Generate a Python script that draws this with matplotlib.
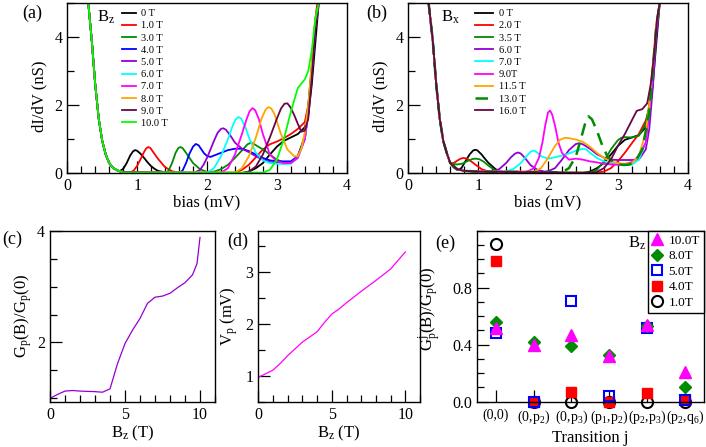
import numpy as np
import matplotlib
matplotlib.use('Agg')
import matplotlib.pyplot as plt
from matplotlib.ticker import MultipleLocator, FixedLocator

plt.rcParams['font.family'] = ['Liberation Serif', 'DejaVu Serif']
plt.rcParams['mathtext.fontset'] = 'custom'
plt.rcParams['mathtext.rm'] = 'Liberation Serif'
plt.rcParams['mathtext.it'] = 'Liberation Serif:italic'

# ---- panel (a): dI/dV vs bias for Bz ----
# shared steep edge at low bias
edge_a_bias = [0.30, 0.35, 0.40, 0.45, 0.50, 0.55, 0.60, 0.65, 0.70, 0.75]
edge_a_g = [5.0, 3.9, 2.6, 1.6, 0.95, 0.55, 0.30, 0.17, 0.10, 0.06]

bz_labels = ['0 T', '1.0 T', '3.0 T', '4.0 T', '5.0 T', '6.0 T', '7.0 T', '8.0 T', '9.0 T', '10.0 T']
bz_colors = ['black', 'red', '#008b00', 'blue', '#9400d3', 'cyan', 'magenta', 'orange', '#670748', '#00ff00']

bz0_bias = [0.8, 0.85, 0.9, 0.94, 0.97, 1.0, 1.05, 1.1, 1.15, 1.2, 1.25, 1.3, 1.4, 1.5, 2.5, 2.6, 2.7, 2.8, 2.9, 3.0, 3.1, 3.2, 3.3, 3.4, 3.45, 3.5, 3.55, 3.6]
bz0_g = [0.13, 0.3, 0.52, 0.64, 0.68, 0.66, 0.57, 0.45, 0.32, 0.21, 0.13, 0.07, 0.03, 0.01, 0.01, 0.05, 0.15, 0.3, 0.55, 0.78, 0.95, 1.05, 1.15, 1.35, 1.7, 2.6, 3.8, 5.0]
bz1_bias = [0.8, 0.9, 0.95, 1.0, 1.05, 1.1, 1.13, 1.16, 1.19, 1.22, 1.3, 1.4, 1.5, 1.6, 2.4, 2.5, 2.6, 2.7, 2.8, 2.9, 3.0, 3.1, 3.2, 3.3, 3.4, 3.45, 3.5, 3.55, 3.58]
bz1_g = [0.03, 0.02, 0.08, 0.22, 0.42, 0.63, 0.73, 0.77, 0.74, 0.65, 0.42, 0.18, 0.06, 0.02, 0.02, 0.1, 0.25, 0.47, 0.7, 0.85, 0.93, 1.03, 1.15, 1.3, 1.5, 2.0, 3.0, 4.5, 5.0]
bz3_bias = [0.8, 1.4, 1.45, 1.5, 1.55, 1.59, 1.62, 1.65, 1.7, 1.8, 1.9, 2.0, 2.1, 2.2, 2.3, 2.4, 2.5, 2.58, 2.63, 2.68, 2.75, 2.82, 2.9, 3.0, 3.1, 3.2, 3.3, 3.4, 3.45, 3.5, 3.55, 3.6]
bz3_g = [0.03, 0.0, 0.08, 0.3, 0.6, 0.74, 0.77, 0.74, 0.6, 0.3, 0.12, 0.04, 0.05, 0.12, 0.25, 0.45, 0.67, 0.85, 0.9, 0.85, 0.76, 0.68, 0.55, 0.4, 0.32, 0.32, 0.5, 1.1, 2.0, 3.2, 4.5, 5.0]
bz4_bias = [0.8, 1.6, 1.65, 1.7, 1.75, 1.8, 1.84, 1.88, 1.92, 1.96, 2.0, 2.05, 2.1, 2.2, 2.3, 2.4, 2.5, 2.6, 2.7, 2.8, 2.9, 3.0, 3.1, 3.2, 3.3, 3.4, 3.45, 3.5, 3.55, 3.6]
bz4_g = [0.03, 0.0, 0.08, 0.3, 0.58, 0.78, 0.86, 0.82, 0.7, 0.58, 0.51, 0.48, 0.52, 0.6, 0.68, 0.72, 0.72, 0.65, 0.55, 0.45, 0.38, 0.35, 0.35, 0.35, 0.5, 1.0, 1.8, 3.0, 4.3, 5.0]
bz5_bias = [0.8, 1.8, 1.9, 1.95, 2.0, 2.05, 2.1, 2.15, 2.2, 2.23, 2.27, 2.33, 2.4, 2.5, 2.6, 2.7, 2.8, 2.9, 3.0, 3.1, 3.2, 3.3, 3.4, 3.45, 3.5, 3.55, 3.6]
bz5_g = [0.03, 0.0, 0.1, 0.25, 0.45, 0.7, 0.95, 1.18, 1.3, 1.32, 1.28, 1.12, 0.9, 0.72, 0.62, 0.5, 0.4, 0.33, 0.3, 0.3, 0.3, 0.5, 1.0, 1.8, 3.0, 4.3, 5.0]
bz6_bias = [0.8, 2.0, 2.1, 2.2, 2.3, 2.36, 2.41, 2.45, 2.49, 2.55, 2.6, 2.7, 2.8, 2.9, 3.0, 3.1, 3.2, 3.3, 3.4, 3.45, 3.5, 3.55, 3.6]
bz6_g = [0.03, 0.02, 0.15, 0.5, 1.0, 1.35, 1.58, 1.65, 1.6, 1.35, 1.05, 0.6, 0.38, 0.3, 0.28, 0.27, 0.28, 0.45, 1.0, 1.8, 3.0, 4.3, 5.0]
bz7_bias = [0.8, 2.2, 2.3, 2.4, 2.5, 2.56, 2.61, 2.65, 2.69, 2.74, 2.8, 2.9, 3.0, 3.1, 3.2, 3.3, 3.4, 3.45, 3.5, 3.55, 3.6]
bz7_g = [0.03, 0.02, 0.15, 0.55, 1.15, 1.55, 1.82, 1.91, 1.85, 1.6, 1.15, 0.55, 0.35, 0.3, 0.3, 0.45, 1.0, 1.8, 3.0, 4.3, 5.0]
bz8_bias = [0.8, 2.4, 2.5, 2.6, 2.7, 2.78, 2.84, 2.88, 2.92, 2.97, 3.05, 3.15, 3.25, 3.3, 3.35, 3.4, 3.45, 3.5, 3.55, 3.6]
bz8_g = [0.03, 0.02, 0.15, 0.5, 1.05, 1.6, 1.87, 1.94, 1.9, 1.72, 1.2, 0.7, 0.5, 0.5, 0.7, 1.2, 2.0, 3.2, 4.5, 5.0]
bz9_bias = [0.8, 2.5, 2.6, 2.7, 2.8, 2.9, 3.0, 3.06, 3.11, 3.15, 3.19, 3.25, 3.3, 3.35, 3.4, 3.45, 3.5, 3.55, 3.6]
bz9_g = [0.03, 0.0, 0.05, 0.2, 0.55, 1.05, 1.6, 1.9, 2.04, 2.05, 1.95, 1.7, 1.45, 1.22, 1.25, 1.6, 2.8, 4.2, 5.0]
bz10_bias = [0.8, 2.8, 2.9, 3.0, 3.1, 3.2, 3.3, 3.4, 3.45, 3.5, 3.55, 3.6]
bz10_g = [0.02, 0.02, 0.1, 0.4, 1.0, 1.8, 2.5, 2.75, 3.0, 3.6, 4.5, 5.0]

bz_bias = [bz0_bias, bz1_bias, bz3_bias, bz4_bias, bz5_bias, bz6_bias, bz7_bias, bz8_bias, bz9_bias, bz10_bias]
bz_g = [bz0_g, bz1_g, bz3_g, bz4_g, bz5_g, bz6_g, bz7_g, bz8_g, bz9_g, bz10_g]

# ---- panel (b): dI/dV vs bias for Bx ----
edge_b_bias = [0.29, 0.35, 0.40, 0.45, 0.50, 0.55]
edge_b_g = [5.0, 3.9, 2.6, 1.6, 0.95, 0.6]

bx_labels = ['0 T', '2.0 T', '3.5 T', '6.0 T', '7.0 T', '9.0T', '11.5 T', '13.0 T', '16.0 T']
bx_colors = ['black', 'red', '#008b00', '#9400d3', 'cyan', 'magenta', 'orange', '#008b00', '#670748']
bx_styles = ['-', '-', '-', '-', '-', '-', '-', '--', '-']

bx0_bias = [0.6, 0.65, 0.7, 0.76, 0.82, 0.88, 0.93, 0.96, 0.99, 1.05, 1.1, 1.15, 1.25, 1.35, 1.5, 2.5, 2.6, 2.7, 2.8, 2.9, 3.0, 3.1, 3.2, 3.3, 3.4, 3.45, 3.5, 3.55, 3.6]
bx0_g = [0.3, 0.17, 0.1, 0.15, 0.36, 0.56, 0.67, 0.69, 0.67, 0.55, 0.42, 0.3, 0.12, 0.04, 0.01, 0.01, 0.05, 0.15, 0.3, 0.55, 0.8, 0.98, 1.05, 1.12, 1.35, 1.7, 2.6, 3.8, 5.0]
bx2_bias = [0.6, 0.65, 0.7, 0.75, 0.79, 0.84, 0.9, 0.95, 1.05, 1.15, 1.3, 2.7, 2.8, 2.9, 3.0, 3.1, 3.2, 3.3, 3.4, 3.45, 3.5, 3.55, 3.6]
bx2_g = [0.3, 0.3, 0.37, 0.43, 0.45, 0.43, 0.35, 0.27, 0.12, 0.05, 0.02, 0.02, 0.05, 0.15, 0.35, 0.6, 0.88, 1.15, 1.55, 1.9, 2.8, 4.2, 5.0]
bx35_bias = [0.6, 0.65, 0.7, 0.77, 0.85, 0.92, 0.97, 1.02, 1.08, 1.15, 1.25, 1.4, 2.6, 2.7, 2.8, 2.9, 3.0, 3.05, 3.1, 3.2, 3.3, 3.4, 3.45, 3.5, 3.55, 3.6]
bx35_g = [0.3, 0.27, 0.26, 0.28, 0.36, 0.42, 0.43, 0.41, 0.34, 0.22, 0.08, 0.03, 0.02, 0.1, 0.35, 0.7, 0.97, 1.04, 1.06, 1.05, 1.1, 1.45, 2.0, 3.0, 4.3, 5.0]
bx6_bias = [0.6, 0.7, 0.8, 1.0, 1.2, 1.3, 1.4, 1.47, 1.53, 1.57, 1.61, 1.67, 1.75, 1.85, 1.95, 2.0, 2.1, 2.2, 2.3, 2.4, 2.45, 2.5, 2.6, 2.7, 2.8, 2.9, 3.0, 3.1, 3.2, 3.3, 3.4, 3.45, 3.5, 3.55, 3.6]
bx6_g = [0.3, 0.12, 0.07, 0.05, 0.05, 0.12, 0.3, 0.47, 0.58, 0.61, 0.58, 0.45, 0.24, 0.1, 0.05, 0.06, 0.15, 0.4, 0.68, 0.86, 0.88, 0.85, 0.72, 0.56, 0.46, 0.4, 0.39, 0.39, 0.39, 0.4, 0.7, 1.3, 2.5, 4.0, 5.0]
bx7_bias = [0.6, 0.7, 0.8, 1.0, 1.4, 1.5, 1.6, 1.7, 1.75, 1.79, 1.84, 1.9, 2.0, 2.1, 2.2, 2.3, 2.4, 2.5, 2.55, 2.6, 2.7, 2.8, 2.9, 3.0, 3.1, 3.2, 3.3, 3.4, 3.45, 3.5, 3.55, 3.6]
bx7_g = [0.3, 0.12, 0.07, 0.05, 0.06, 0.12, 0.28, 0.52, 0.63, 0.67, 0.62, 0.5, 0.43, 0.47, 0.52, 0.58, 0.66, 0.72, 0.7, 0.6, 0.45, 0.35, 0.3, 0.27, 0.23, 0.25, 0.4, 0.9, 1.8, 3.0, 4.3, 5.0]
bx9_bias = [0.6, 0.7, 0.8, 1.0, 1.7, 1.8, 1.87, 1.92, 1.96, 2.0, 2.03, 2.06, 2.1, 2.15, 2.2, 2.3, 2.4, 2.5, 2.6, 2.7, 2.8, 2.9, 3.0, 3.1, 3.2, 3.3, 3.4, 3.45, 3.5, 3.55, 3.6]
bx9_g = [0.3, 0.12, 0.07, 0.05, 0.05, 0.15, 0.45, 0.9, 1.4, 1.78, 1.84, 1.72, 1.4, 0.9, 0.6, 0.4, 0.43, 0.4, 0.35, 0.32, 0.28, 0.26, 0.25, 0.27, 0.33, 0.5, 0.9, 1.8, 3.0, 4.3, 5.0]
bx115_bias = [0.6, 0.7, 0.8, 1.0, 1.8, 1.9, 2.0, 2.1, 2.17, 2.24, 2.3, 2.4, 2.5, 2.6, 2.7, 2.8, 2.9, 3.0, 3.1, 3.2, 3.3, 3.4, 3.45, 3.5, 3.55, 3.6]
bx115_g = [0.3, 0.12, 0.07, 0.05, 0.05, 0.15, 0.45, 0.8, 0.98, 1.04, 1.03, 0.99, 0.92, 0.78, 0.6, 0.45, 0.35, 0.3, 0.28, 0.3, 0.5, 1.2, 2.0, 3.2, 4.4, 5.0]
bx13_bias = [0.6, 0.7, 0.8, 1.0, 2.2, 2.3, 2.4, 2.47, 2.53, 2.58, 2.63, 2.7, 2.78, 2.85, 2.95, 3.05, 3.15, 3.25, 3.35, 3.45, 3.5, 3.55, 3.6]
bx13_g = [0.3, 0.12, 0.07, 0.05, 0.03, 0.15, 0.5, 1.0, 1.45, 1.67, 1.58, 1.25, 0.8, 0.5, 0.3, 0.25, 0.25, 0.35, 0.7, 1.8, 3.0, 4.3, 5.0]
bx16_bias = [0.6, 0.7, 0.8, 1.0, 2.6, 2.7, 2.8, 2.9, 3.0, 3.1, 3.2, 3.27, 3.35, 3.42, 3.47, 3.52, 3.56, 3.6]
bx16_g = [0.3, 0.12, 0.07, 0.05, 0.01, 0.04, 0.15, 0.4, 0.8, 1.15, 1.55, 1.83, 1.88, 2.05, 2.6, 3.5, 4.5, 5.0]

bx_bias = [bx0_bias, bx2_bias, bx35_bias, bx6_bias, bx7_bias, bx9_bias, bx115_bias, bx13_bias, bx16_bias]
bx_g = [bx0_g, bx2_g, bx35_g, bx6_g, bx7_g, bx9_g, bx115_g, bx13_g, bx16_g]

# ---- panel (c) and (d) ----
c_field = [0, 0.5, 1, 1.5, 2, 3, 3.5, 4, 4.5, 5, 5.5, 6, 6.5, 7, 7.5, 8, 8.5, 9, 9.5, 9.8, 10]
c_ratio = [1.0, 1.07, 1.13, 1.14, 1.13, 1.12, 1.11, 1.17, 1.62, 1.98, 2.22, 2.43, 2.70, 2.81, 2.83, 2.88, 2.98, 3.07, 3.21, 3.41, 3.88]
d_field = [0, 1, 1.5, 2, 3, 4, 4.5, 5, 5.5, 6, 7, 8, 9, 10]
d_vp = [0.97, 1.11, 1.24, 1.39, 1.65, 1.85, 2.03, 2.19, 2.29, 2.41, 2.63, 2.84, 3.06, 3.39]

# ---- panel (e) ----
trans_labels = ['(0,0)', '(0,p$_2$)', '(0,p$_3$)', '(p$_1$,p$_2$)', '(p$_2$,p$_3$)', '(p$_2$,q$_6$)']
e_1T = [1.11, 0.0, 0.0, 0.0, 0.0, 0.0]
e_4T = [0.99, 0.0, 0.07, 0.0, 0.06, 0.01]
e_5T = [0.48, 0.0, 0.71, 0.04, 0.52, 0.01]
e_8T = [0.56, 0.42, 0.39, 0.33, 0.53, 0.10]
e_10T = [0.52, 0.40, 0.47, 0.32, 0.54, 0.21]

W, H = 706, 447
fig = plt.figure(figsize=(W / 100, H / 100), dpi=100)

def px_axes(l, t, r, b):
    return fig.add_axes([l / W, 1 - b / H, (r - l) / W, (b - t) / H])

def style_ticks(ax):
    ax.tick_params(which='both', direction='in', top=False, right=False, labelsize=11.5, width=0.9)
    ax.tick_params(which='major', length=8.5)
    ax.tick_params(which='minor', length=5)
    for s in ax.spines.values():
        s.set_linewidth(1.0)

ax_a = px_axes(67.3, 2.7, 346.7, 173.3)
ax_b = px_axes(408.3, 2.7, 687.7, 173.3)
ax_c = px_axes(50, 230.7, 215, 401.7)
ax_d = px_axes(258.3, 230.7, 420, 401.7)
ax_e = px_axes(476.7, 230.7, 704, 401.7)

# (a)
for i in range(len(bz_labels)):
    x = edge_a_bias + bz_bias[i]
    y = edge_a_g + bz_g[i]
    ax_a.plot(x, y, color=bz_colors[i], lw=1.3, label=bz_labels[i])
# (b)
for i in range(len(bx_labels)):
    x = edge_b_bias + bx_bias[i]
    y = edge_b_g + bx_g[i]
    if bx_styles[i] == '--':
        ax_b.plot(x, y, color=bx_colors[i], lw=1.8, ls='--', dashes=(5, 3), label=bx_labels[i])
    else:
        ax_b.plot(x, y, color=bx_colors[i], lw=1.3, label=bx_labels[i])

for ax, ltxt, lx, lgx, hl in [(ax_a, r'B$_\mathrm{z}$', 0.106, 0.175, 1.3), (ax_b, r'B$_\mathrm{x}$', 0.116, 0.215, 1.8)]:
    ax.set_xlim(0, 4)
    ax.set_ylim(0, 5)
    ax.xaxis.set_major_locator(MultipleLocator(1))
    ax.xaxis.set_minor_locator(MultipleLocator(0.2))
    ax.yaxis.set_major_locator(FixedLocator([0, 2, 4]))
    ax.yaxis.set_minor_locator(MultipleLocator(1))
    style_ticks(ax)
    ax.set_xlabel('bias (mV)', fontsize=12, labelpad=0)
    ax.set_ylabel('dI/dV (nS)', fontsize=12)
    ax.yaxis.set_label_coords(-0.072, 0.45)
    ax.text(lx, 0.915, ltxt, transform=ax.transAxes, fontsize=12, va='center')
    ax.legend(loc='upper left', bbox_to_anchor=(lgx, 1.0), frameon=False,
              fontsize=7.5, handlelength=hl, labelspacing=0.28, borderaxespad=0.2, handletextpad=0.5)

fig.text(22 / W, 1 - 13 / H, '(a)', fontsize=13, va='center')
fig.text(366 / W, 1 - 13 / H, '(b)', fontsize=13, va='center')

# (c)
ax_c.plot(c_field, c_ratio, color='#9400d3', lw=0.9)
ax_c.set_xlim(0, 11)
ax_c.set_ylim(0.94, 4)
ax_c.xaxis.set_major_locator(MultipleLocator(5))
ax_c.xaxis.set_minor_locator(MultipleLocator(1))
ax_c.yaxis.set_major_locator(FixedLocator([2, 4]))
ax_c.yaxis.set_minor_locator(MultipleLocator(0.5))
style_ticks(ax_c)
ax_c.set_xlabel(r'B$_\mathrm{z}$ (T)', fontsize=12, labelpad=1)
ax_c.set_ylabel(r'G$_\mathrm{p}$(B)/G$_\mathrm{p}$(0)', fontsize=12)
ax_c.yaxis.set_label_coords(-0.1, 0.5)
fig.text(2 / W, 1 - 239 / H, '(c)', fontsize=13, va='center')

# (d)
ax_d.plot(d_field, d_vp, color='magenta', lw=0.9)
ax_d.set_xlim(0, 11)
ax_d.set_ylim(0.5, 3.8)
ax_d.xaxis.set_major_locator(MultipleLocator(5))
ax_d.xaxis.set_minor_locator(MultipleLocator(1))
ax_d.yaxis.set_major_locator(MultipleLocator(1))
ax_d.yaxis.set_minor_locator(MultipleLocator(0.5))
style_ticks(ax_d)
ax_d.set_xlabel(r'B$_\mathrm{z}$ (T)', fontsize=12, labelpad=1)
ax_d.set_ylabel(r'V$_\mathrm{p}$ (mV)', fontsize=12, labelpad=4)
fig.text(227 / W, 1 - 241 / H, '(d)', fontsize=13, va='center')

# (e)
xpos = np.arange(len(trans_labels))
ax_e.plot(xpos, e_1T, 'o', mfc='none', mec='black', mew=1.5, ms=8, label='1.0T', clip_on=False)
ax_e.plot(xpos, e_4T, 's', color='red', ms=7, label='4.0T', clip_on=False)
ax_e.plot(xpos, e_5T, 's', mfc='none', mec='blue', mew=1.5, ms=7.5, label='5.0T', clip_on=False)
ax_e.plot(xpos, e_8T, 'D', color='#008b00', ms=6, label='8.0T', clip_on=False)
ax_e.plot(xpos, e_10T, '^', color='magenta', ms=8, label='10.0T', clip_on=False)
ax_e.set_xlim(-0.5, 5.5)
ax_e.set_ylim(0, 1.2)
ax_e.set_xticks(xpos)
ax_e.set_xticklabels(trans_labels)
ax_e.yaxis.set_major_locator(FixedLocator([0, 0.4, 0.8]))
ax_e.yaxis.set_minor_locator(MultipleLocator(0.1))
style_ticks(ax_e)
ax_e.tick_params(axis='x', labelsize=10, pad=5)
ax_e.set_xlabel('Transition j', fontsize=12, labelpad=3)
ax_e.set_ylabel(r'G$_\mathrm{p}^\mathrm{j}$(B)/G$_\mathrm{p}$(0)', fontsize=12)
ax_e.yaxis.set_label_coords(-0.153, 0.54)
ax_e.text(0.666, 0.925, r'B$_\mathrm{z}$', transform=ax_e.transAxes, fontsize=12, va='center')
h, l = ax_e.get_legend_handles_labels()
leg = ax_e.legend(h[::-1], l[::-1], loc='upper right', fontsize=9.5, borderaxespad=0,
                  fancybox=False, edgecolor='black', framealpha=1, handlelength=0.8,
                  handletextpad=0.5, labelspacing=0.25, borderpad=0.3)
leg.get_frame().set_linewidth(1.0)
fig.text(435 / W, 1 - 243 / H, '(e)', fontsize=13, va='center')

fig.savefig('out.png', dpi=100)
